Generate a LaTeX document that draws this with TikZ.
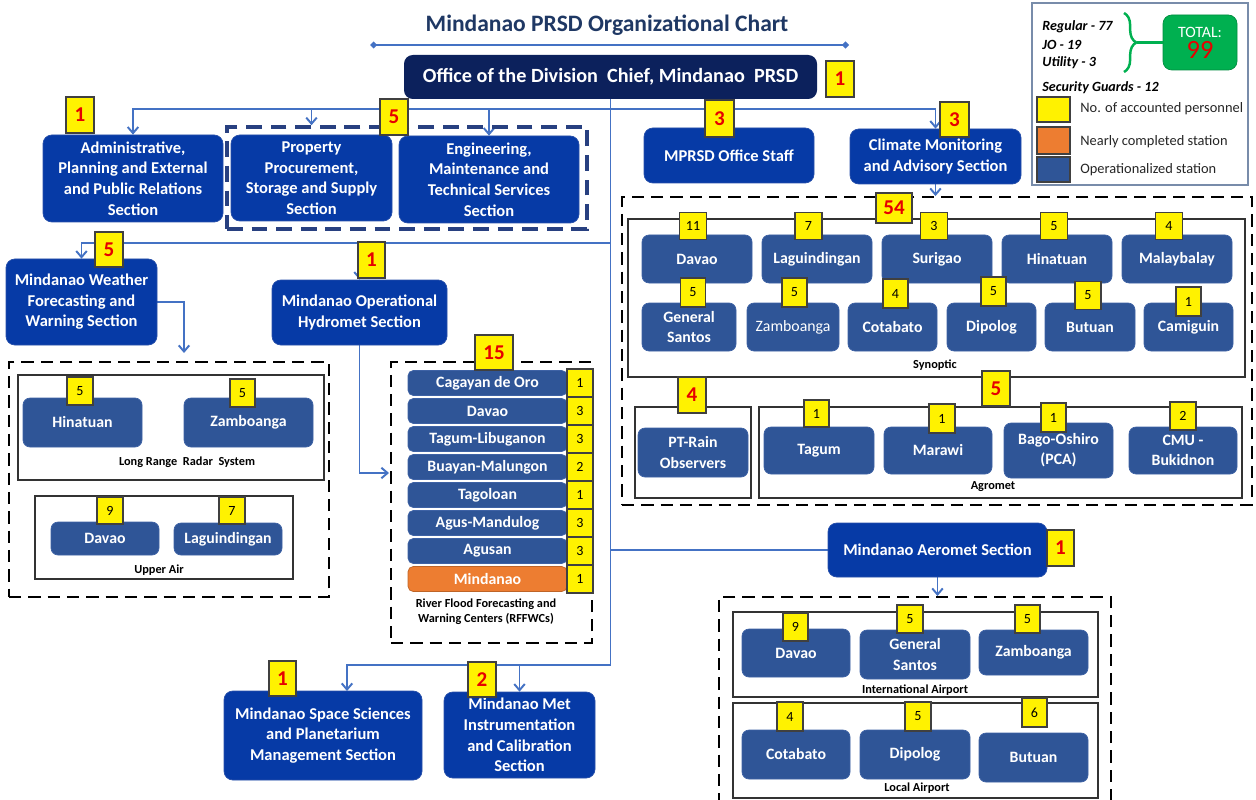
\documentclass[tikz,border=0pt]{standalone}
\usepackage{fontspec}
\setmainfont{Carlito}
\usepackage{xcolor}
\usepackage{tikz}
\usetikzlibrary{positioning}
\usetikzlibrary{decorations.pathreplacing}
\usetikzlibrary{arrows,arrows.meta,shapes,backgrounds}
\usetikzlibrary{calc}
\definecolor[named]{secblue}{RGB}{6,58,166}
\definecolor[named]{secline}{RGB}{40,80,170}
\definecolor[named]{stnblue}{RGB}{47,85,151}
\definecolor[named]{stnline}{RGB}{62,98,165}
\definecolor[named]{officenavy}{RGB}{12,33,92}
\definecolor[named]{linkblue}{RGB}{68,114,196}
\definecolor[named]{numred}{RGB}{230,0,0}
\definecolor[named]{titleblue}{RGB}{31,56,100}
\definecolor[named]{grpblue}{RGB}{40,64,128}
\definecolor[named]{nearorange}{RGB}{237,125,49}
\definecolor[named]{totalgreen}{RGB}{0,176,80}
\definecolor[named]{legendline}{RGB}{120,140,170}
\tikzset{sz/.style 2 args={minimum width=#1*0.02cm, minimum height=#2*0.02cm}}

\begin{document}
\begin{tikzpicture}[x=0.02cm,y=-0.02cm]
   \useasboundingbox (0,0) rectangle (1256,800);
   \tikzstyle{sect}=[draw=secline, fill=secblue, rounded corners=5pt, text=white, align=center, inner sep=1pt, font=\bfseries\fontsize{9.4}{11.7}\selectfont];
   \tikzstyle{stn}=[draw=stnline, fill=stnblue, rounded corners=4pt, text=white, align=center, inner sep=1pt, font=\bfseries\fontsize{9}{11.5}\selectfont];
   \tikzstyle{badge}=[draw=black!75, fill=yellow, line width=0.6pt, inner sep=0pt, font=\fontsize{8}{9}\selectfont];
   \tikzstyle{bigbadge}=[badge, text=numred, font=\bfseries\fontsize{12}{14}\selectfont];
   \tikzstyle{grp}=[draw=black, line width=1.1pt, dash pattern=on 7pt off 4pt];
   \tikzstyle{sub}=[draw=black!80, line width=0.6pt];
   \tikzstyle{tag}=[font=\bfseries\fontsize{7}{8.6}\selectfont, align=center, inner sep=0pt];
   \tikzstyle{legtext}=[anchor=west, inner sep=0pt, text=black!85, font=\fontsize{8.2}{10}\selectfont];
   \tikzstyle{link}=[draw=linkblue, line width=1.1pt];
   \tikzstyle{linkar}=[link, -{Straight Barb[length=3.5pt,width=6pt]}];

   % title and head office
   \node[font=\bfseries\fontsize{13.4}{16}\selectfont, text=titleblue] (title) at (607,25) {Mindanao PRSD Organizational Chart};
   \coordinate (tl) at (370,45);
   \coordinate (tr) at (849,45);
   \draw[linkblue, line width=0.8pt, {Diamond[length=4pt,width=4pt]}-{Diamond[length=4pt,width=4pt]}] (tl) -- (tr);
   \node[fill=officenavy, rounded corners=5pt, sz={413}{44}, text=white, font=\bfseries\fontsize{11.5}{14}\selectfont] (office) at (610.5,77) {Office of the Division\ \ Chief, Mindanao\ \ PRSD};
   \node[bigbadge, sz={28}{36}] (officen) at (840,79) {1};

   % first row of sections
   \node[grp, draw=grpblue, line width=2pt, dash pattern=on 9pt off 5pt, sz={360}{102}] (grpsupport) at (407,178) {};
   \node[sect, sz={180}{87}] (admin) at (133,178.5) {Administrative,\\Planning and External\\and Public Relations\\Section};
   \node[sect, sz={161}{86}] (prop) at (311.5,178) {Property\\Procurement,\\Storage and Supply\\Section};
   \node[sect, sz={180}{87}] (eng) at (489,179.5) {Engineering,\\Maintenance and\\Technical Services\\Section};
   \node[sect, sz={170}{55}] (staff) at (729,155.5) {MPRSD Office Staff};
   \node[sect, sz={171}{55}] (climate) at (935.5,156.5) {Climate Monitoring\\and Advisory Section};
   \node[bigbadge, sz={28}{36}] (adminn) at (80,115) {1};
   \node[bigbadge, sz={28}{36}] (grpsupportn) at (394,117) {5};
   \node[bigbadge, sz={29}{37}] (staffn) at (719.5,118.5) {3};
   \node[bigbadge, sz={29}{35}] (climaten) at (954.5,119.5) {3};

   % weather forecasting and radar
   \node[sect, sz={151}{86}] (wfws) at (81.5,302) {Mindanao Weather\\Forecasting and\\Warning Section};
   \node[bigbadge, sz={28}{35}] (wfwsn) at (109,249.5) {5};
   \node[grp, sz={320}{235}] (radar) at (169,479.5) {};
   \node[sub, sz={306}{105}] (lrr) at (171,427.5) {};
   \node[tag] (lrrlbl) at (187,462) {Long Range\ \ Radar\ \ System};
   \node[stn, sz={119}{49}] (lrr1) at (82.5,422.5) {Hinatuan};
   \node[stn, sz={129}{49}] (lrr2) at (248.5,422.5) {Zamboanga};
   \node[badge, sz={26}{28}] (lrr1n) at (80,391) {5};
   \node[badge, sz={25}{28}] (lrr2n) at (242.5,393) {5};
   \node[sub, sz={258}{83}] (ua) at (164,537.5) {};
   \node[tag] (ualbl) at (159,570) {Upper Air};
   \node[stn, sz={108}{33}] (ua1) at (105,538.5) {Davao};
   \node[stn, sz={108}{32}] (ua2) at (228,539) {Laguindingan};
   \node[badge, sz={26}{27}] (ua1n) at (110,510.5) {9};
   \node[badge, sz={26}{27}] (ua2n) at (232,510.5) {7};

   % hydromet and river flood centres
   \node[sect, sz={175}{65}] (hydro) at (359.5,312.5) {Mindanao Operational\\Hydromet Section};
   \node[bigbadge, sz={27}{36}] (hydron) at (371.5,260) {1};
   \node[grp, sz={201}{281}] (rffwc) at (491.5,502.5) {};
   \foreach \nm/\cnt [count=\i] in {Cagayan de Oro/1, Davao/3, Tagum-Libuganon/3, Buayan-Malungon/2, Tagoloan/1, Agus-Mandulog/3, Agusan/3}
   {
      \node[stn, rounded corners=3pt, sz={159}{25}] (rf\i) at (487.5,{383+28*(\i-1)}) {\nm};
      \node[badge, sz={26}{28}] (rfn\i) at (580,{383+28*(\i-1)}) {\cnt};
   }
   \node[stn, rounded corners=3pt, fill=nearorange, draw=nearorange!80!black, sz={159}{25}] (rf8) at (487.5,579) {Mindanao};
   \node[badge, sz={26}{28}] (rfn8) at (580,579) {1};
   \node[bigbadge, sz={38}{35}] (rffwcn) at (494,352.5) {15};
   \node[tag] (rffwclbl) at (486,612) {River Flood Forecasting and\\Warning Centers (RFFWCs)};

   % space sciences and instrumentation
   \node[sect, sz={198}{89}] (space) at (323,735.5) {Mindanao Space Sciences\\and Planetarium\\Management Section};
   \node[sect, sz={151}{86}] (met) at (519.5,735) {Mindanao Met\\Instrumentation\\and Calibration\\Section};
   \node[bigbadge, sz={27}{35}] (spacen) at (282.5,678.5) {1};
   \node[bigbadge, sz={28}{35}] (metn) at (482,679.5) {2};

   % climate stations
   \node[grp, sz={630}{308}] (synbig) at (937,351) {};
   \node[sub, sz={617}{158}] (syn) at (936.5,298) {};
   \node[tag] (synlbl) at (935,365) {Synoptic};
   \foreach \nm/\cnt/\bx [count=\i] in {Davao/11/693, Laguindingan/7/808.5, Surigao/3/934, Hinatuan/5/1054, Malaybalay/4/1169}
   {
      \node[stn, sz={110}{48}] (syna\i) at ({697+120*(\i-1)},259) {\nm};
      \node[badge, sz={27}{27}] (synan\i) at (\bx,226) {\cnt};
   }
   \node[stn, sz={94}{48}] (synb1) at (689,327) {General\\Santos};
   \node[stn, sz={92}{48}, font=\fontsize{9}{11.5}\selectfont] (synb2) at (793,327) {Zamboanga};
   \node[stn, sz={89}{48}] (synb3) at (892.5,327) {Cotabato};
   \node[stn, sz={89}{48}] (synb4) at (991.5,327) {Dipolog};
   \node[stn, sz={90}{48}] (synb5) at (1090,327) {Butuan};
   \node[stn, sz={89}{48}] (synb6) at (1188.5,327) {Camiguin};
   \node[badge, sz={25}{29}] (synbn1) at (693,292.5) {5};
   \node[badge, sz={25}{29}] (synbn2) at (794.5,292.5) {5};
   \node[badge, sz={25}{29}] (synbn3) at (895.5,293.5) {4};
   \node[badge, sz={25}{29}] (synbn4) at (993.5,291.5) {5};
   \node[badge, sz={26}{28}] (synbn5) at (1088,295.5) {5};
   \node[badge, sz={25}{29}] (synbn6) at (1188.5,301.5) {1};
   \node[bigbadge, sz={36}{30}] (synbign) at (894,208) {54};

   \node[sub, sz={116}{91}] (ptr) at (693,452.5) {};
   \node[stn, sz={110}{49}] (ptr1) at (693,452.5) {PT-Rain\\Observers};
   \node[bigbadge, sz={28}{36}] (ptrn) at (692,395) {4};
   \node[sub, sz={483}{91}] (agro) at (1000.5,452.5) {};
   \node[tag] (agrolbl) at (993,487) {Agromet};
   \node[stn, sz={110}{47}] (agro1) at (819,450.5) {Tagum};
   \node[stn, sz={108}{47}] (agro2) at (938,450.5) {Marawi};
   \node[stn, sz={109}{55}] (agro3) at (1058.5,450.5) {Bago-Oshiro\\(PCA)};
   \node[stn, sz={108}{47}] (agro4) at (1183,450.5) {CMU -\\Bukidnon};
   \node[badge, sz={25}{27}] (agron1) at (816.5,413.5) {1};
   \node[badge, sz={26}{29}] (agron2) at (942,418.5) {1};
   \node[badge, sz={25}{29}] (agron3) at (1053.5,417.5) {1};
   \node[badge, sz={26}{28}] (agron4) at (1183,416) {2};
   \node[bigbadge, sz={28}{35}] (agron) at (996,388.5) {5};

   % aeromet and airports
   \node[sect, sz={219}{54}] (aero) at (937.5,550) {Mindanao Aeromet Section};
   \node[bigbadge, sz={27}{36}] (aeron) at (1060.5,548) {1};
   \node[grp, sz={392}{218}] (airport) at (915,706) {};
   \node[sub, sz={365}{85}] (intl) at (915.5,654.5) {};
   \node[tag] (intllbl) at (915,690) {International Airport};
   \node[stn, sz={108}{48}] (intl1) at (796,653) {Davao};
   \node[stn, sz={110}{49}] (intl2) at (915,654.5) {General\\Santos};
   \node[stn, sz={109}{45}] (intl3) at (1033.5,652.5) {Zamboanga};
   \node[badge, sz={25}{28}] (intln1) at (795.5,627) {9};
   \node[badge, sz={26}{28}] (intln2) at (910,619) {5};
   \node[badge, sz={25}{28}] (intln3) at (1027.5,619) {5};
   \node[sub, sz={365}{95}] (local) at (915.5,750.5) {};
   \node[tag] (locallbl) at (917,788) {Local Airport};
   \node[stn, sz={108}{49}] (local1) at (796,754.5) {Cotabato};
   \node[stn, sz={110}{49}] (local2) at (915,754.5) {Dipolog};
   \node[stn, sz={109}{49}] (local3) at (1033.5,757.5) {Butuan};
   \node[badge, sz={26}{29}] (localn1) at (790,716.5) {4};
   \node[badge, sz={26}{29}] (localn2) at (918,716.5) {5};
   \node[badge, sz={25}{29}] (localn3) at (1034.5,712.5) {6};

   % legend
   \node[draw=legendline, line width=0.6pt, sz={216}{182}] (legend) at (1140,94) {};
   \tikzstyle{every node}=[anchor=west, inner sep=0pt, font=\bfseries\itshape\fontsize{8}{10}\selectfont];
   \node (reg) at (1042,27) {Regular - 77};
   \node (jo) at (1042,45) {JO - 19};
   \node (util) at (1042,63) {Utility - 3};
   \node (guard) at (1042,88) {Security Guards - 12};
   \tikzstyle{every node}=[];
   \node[fill=totalgreen, draw=totalgreen!80!black, rounded corners=5pt, sz={74}{55}, align=center, text=white, font=\fontsize{9}{12}\selectfont] (total) at (1200,42.5) {TOTAL:\\{\color{numred}\fontsize{15}{15}\selectfont 99}};
   \coordinate (bt) at (1124,13);
   \coordinate (bb) at (1124,72);
   \coordinate (btip) at (1137,42.5);
   \draw[totalgreen, line width=1.4pt, decorate, decoration={brace, amplitude=7pt}] (bt) -- (bb);
   \draw[totalgreen, line width=1.4pt] (btip) -- (total.west);
   \node[badge, sz={33}{25}] (keyy) at (1053.5,109.5) {};
   \node[badge, fill=nearorange, sz={33}{27}] (keyo) at (1053.5,140.5) {};
   \node[badge, fill=stnblue, sz={33}{25}] (keyb) at (1053.5,169.5) {};
   \node[legtext] (keyyt) at (1080,109) {No. of accounted personnel};
   \node[legtext] (keyot) at (1080,142) {Nearly completed station};
   \node[legtext] (keybt) at (1080,170) {Operationalized station};

   % connectors
   \begin{scope}[on background layer]
      \fill[white] (0,0) rectangle (1256,800);
      \coordinate (jtop) at (610.5,109);
      \coordinate (jmid) at (610.5,243);
      \coordinate (jaero) at (610.5,550);
      \coordinate (jbot) at (610.5,665);
      \coordinate (wbend) at (184,353);
      \coordinate (hbend) at (389,473);
      \coordinate (sdrop) at (347,691);
      \draw[link] (office.south) -- (jbot);
      \draw[linkar] (jtop) -| (admin.north);
      \draw[linkar] (jtop) -| (climate.north);
      \draw[linkar] (jtop -| prop.north) -- (grpsupport.north -| prop.north);
      \draw[linkar] (jtop -| eng.north) -- (eng.north);
      \draw[linkar] (jmid) -| (wfws.north);
      \draw[linkar] (jmid -| hydro.north) -- (hydro.north);
      \draw[linkar] (wfws.east) -| (wbend);
      \draw[linkar] (hydro.south) |- (hbend);
      \draw[link] (jaero) -- (aero.west);
      \draw[linkar] (aero.south) -- (aero.south |- airport.north);
      \draw[linkar] (climate.south) -- (climate.south |- synbig.north);
      \draw[linkar] (jbot) -| (sdrop);
      \draw[linkar] (jbot) -| (met.north);
   \end{scope}
\end{tikzpicture}
\end{document}
